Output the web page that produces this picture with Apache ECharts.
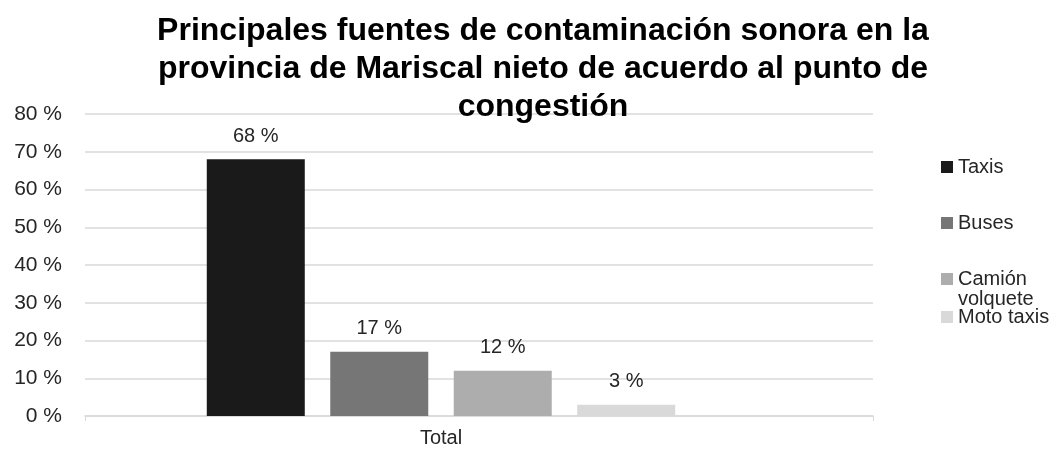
<!DOCTYPE html>
<html>
<head>
<meta charset="utf-8">
<script src="https://cdn.jsdelivr.net/npm/echarts@6/dist/echarts.min.js"></script>
<style>
  html, body { margin: 0; padding: 0; background: #fff; }
  #chart { width: 1063px; height: 455px; }
</style>
</head>
<body>
<div id="chart"></div>
<script>
var categories = ['Total']
var seriesNames = ['Taxis', 'Buses', 'Camión volquete', 'Moto taxis']
var seriesValues = [[68], [17], [12], [3]]
var seriesColors = ['#1a1a1a', '#767676', '#adadad', '#d9d9d9']
var yTicks = { min: 0, max: 80, interval: 10 }

var font = 'Arial, "Liberation Sans", sans-serif'
var legendTops = [152, 208, 244, 302]

var series = []
for (var i = 0; i < seriesNames.length; i++) {
  series.push({
    name: seriesNames[i],
    type: 'bar',
    xAxisIndex: 1,
    yAxisIndex: 1,
    barWidth: 98,
    barGap: '26%',
    itemStyle: { color: seriesColors[i] },
    label: {
      show: true,
      position: 'top',
      distance: 13,
      formatter: '{c} %',
      fontFamily: font,
      fontSize: 20,
      color: '#262626'
    },
    data: seriesValues[i]
  })
}

// una leyenda por serie para controlar la posicion
var legends = seriesNames.map(function (name, i) {
  return {
    data: [name],
    left: 936,
    top: legendTops[i],
    icon: 'rect',
    itemWidth: 12,
    itemHeight: 12,
    selectedMode: false,
    formatter: function (n) {
      // Camión volquete en dos lineas, con la primera alineada al cuadro
      if (n == 'Camión volquete') return '\nCamión\nvolquete'
      return n
    },
    textStyle: {
      fontFamily: font,
      fontSize: 20,
      color: '#262626',
      lineHeight: 20
    }
  }
})

var myChart = echarts.init(document.getElementById('chart'))
var option = {
  animation: false,
  title: {
    text: 'Principales fuentes de contaminación sonora en la\nprovincia de Mariscal nieto de acuerdo al punto de\ncongestión',
    left: 538,
    textAlign: 'center',
    top: 7,
    textStyle: {
      fontFamily: font,
      fontSize: 32,
      fontWeight: 'bold',
      lineHeight: 38,
      color: '#000'
    }
  },
  legend: legends,
  grid: [
    { left: 85, right: 190, top: 114, bottom: 39 },
    { left: 85, right: 266, top: 114, bottom: 39 }
  ],
  xAxis: [
    {
      type: 'category',
      gridIndex: 0,
      data: categories,
      axisLine: { lineStyle: { color: '#d9d9d9', width: 1.5 } },
      axisTick: { show: true, length: 5, lineStyle: { color: '#d9d9d9' } },
      axisLabel: { show: false }
    },
    {
      type: 'category',
      gridIndex: 1,
      data: categories,
      axisLine: { show: false },
      axisTick: { show: false },
      axisLabel: { fontFamily: font, fontSize: 20, color: '#262626', margin: 12 }
    }
  ],
  yAxis: [
    {
      type: 'value',
      gridIndex: 0,
      min: yTicks.min,
      max: yTicks.max,
      interval: yTicks.interval,
      axisLabel: { formatter: '{value} %', fontFamily: font, fontSize: 21, color: '#262626', margin: 23 },
      splitLine: { lineStyle: { color: '#d9d9d9', width: 1.5 } }
    },
    {
      type: 'value',
      gridIndex: 1,
      min: yTicks.min,
      max: yTicks.max,
      interval: yTicks.interval,
      show: false,
      splitLine: { show: false }
    }
  ],
  series: series
}
myChart.setOption(option)
</script>
</body>
</html>
